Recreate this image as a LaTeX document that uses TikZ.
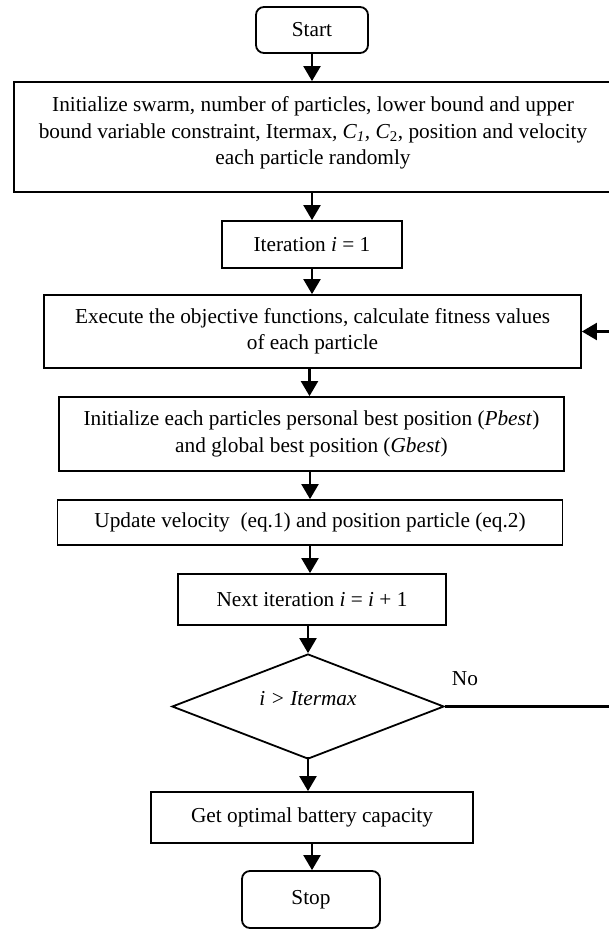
\documentclass[tikz,border=0pt]{standalone}
\usepackage{fontspec}
\setmainfont{Liberation Serif}
\usetikzlibrary{shapes.geometric,arrows.meta}
\begin{document}
\begin{tikzpicture}[x=1pt,y=-1pt,
  every node/.style={font=\fontsize{21.3}{26.5}\selectfont, inner sep=0pt, align=center},
  box/.style={draw, line width=1.8pt, rectangle},
  term/.style={draw, line width=1.8pt, rectangle, rounded corners=8pt},
  dec/.style={draw, line width=1.8pt, diamond, aspect=2.59},
  arr/.style={line width=2.2pt, -{Triangle[width=17pt,length=15pt]}},
  ln/.style={line width=2.2pt}
]
\useasboundingbox (0,0) rectangle (609,929);
\clip (0,0) rectangle (609,929);
\node[term, minimum width=112pt, minimum height=46pt] (start) at (312,30) {Start};
\node[box, minimum width=598pt, minimum height=110pt] (init) at (313,137) {};
\node (inittext) at (313,133) {Initialize swarm, number of particles, lower bound and upper\\
bound variable constraint, Itermax\textit{, C\textsubscript{1}, C}\textsubscript{2}, position and velocity\\
each particle randomly};
\node[box, minimum width=180pt, minimum height=47pt] (iter) at (312,244.5) {Iteration \textit{i} = 1};
\node[box, minimum width=537pt, minimum height=73pt] (exec) at (312.5,331.5) {Execute the objective functions, calculate fitness values\\of each particle};
\node[box, minimum width=505pt, minimum height=74pt] (best) at (311.5,434) {Initialize each particles personal best position (\textit{Pbest})\\and global best position (\textit{Gbest})};
\node[box, minimum width=505pt, minimum height=45pt] (upd) at (310,522.5) {Update velocity\ \ (eq.1) and position particle (eq.2)};
\node[box, minimum width=268pt, minimum height=51pt] (next) at (312,599.5) {Next iteration \textit{i} = \textit{i} + 1};
\node[dec, minimum width=272pt, minimum height=105pt] (cond) at (308,706.5) {};
\node (condtext) at (308,699) {\textit{i > Itermax}};
\node (no) at (465,679) {No};
\node[box, minimum width=322pt, minimum height=51pt] (get) at (312,817.5) {Get optimal battery capacity};
\node[term, minimum width=138pt, minimum height=57pt] (stop) at (311,899.5) {Stop};
\coordinate (loopc) at (625,706.5);
\draw[arr] (start.south) -- (start.south |- init.north);
\draw[arr] (init.south -| iter.north) -- (iter.north);
\draw[arr] (iter.south) -- (iter.south |- exec.north);
\draw[arr] ([xshift=-3pt]exec.south) -- ([xshift=-3pt]exec.south |- best.north);
\draw[arr] (best.south -| upd.north) -- (upd.north);
\draw[arr] (upd.south) -- (upd.south |- next.north);
\draw[arr] ([xshift=-4pt]next.south) -- (cond.north);
\draw[arr] ([yshift=3pt]cond.south) -- (cond.south |- get.north);
\draw[arr] (get.south) -- (get.south |- stop.north);
\draw[ln] (cond.east) -- (loopc);
\draw[arr] (loopc) |- (exec.east);
\end{tikzpicture}
\end{document}
